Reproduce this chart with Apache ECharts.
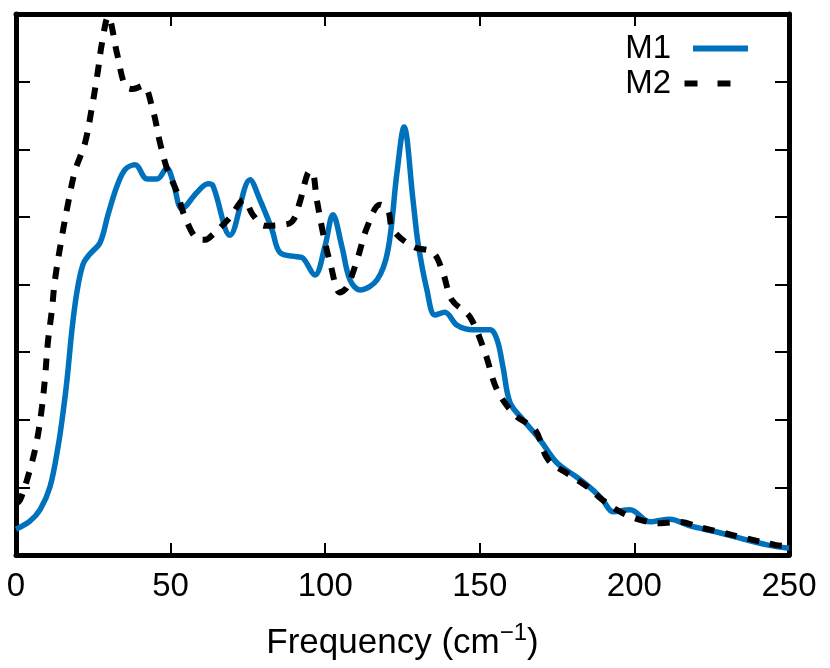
<!DOCTYPE html>
<html>
<head>
<meta charset="utf-8">
<script src="https://cdn.jsdelivr.net/npm/echarts@6/dist/echarts.min.js"></script>
<style>html,body{margin:0;padding:0;background:#fff}#c{width:830px;height:668px}</style>
</head>
<body>
<div id="c"></div>
<script>
// M1 (solid blue): frequency (cm^-1), value
const m1X = [0, 4.5, 7.8, 11.0, 13.6, 15.2, 16.5, 18.1, 19.7, 21.7, 23.9, 27.2, 29.8, 32.7, 35.3, 38.5, 42.4, 45.6, 48.8, 50.8, 53.7, 58.5, 62.1, 63.7, 69.2, 75.7, 78.9, 82.8, 85.4, 90.9, 92.8, 96.7, 99.9, 102.5, 105.4, 108.0, 111.3, 116.8, 120.3, 123.2, 125.5, 128.4, 130.0, 132.9, 135.5, 138.7, 142.6, 147.8, 153.3, 155.6, 157.5, 159.8, 164.0, 169.5, 175.0, 181.4, 186.6, 189.8, 193.1, 198.6, 205.0, 211.5, 218.0, 226.7, 234.2, 242.9, 250];
const m1Y = [0.38, 0.50, 0.67, 1.01, 1.60, 2.10, 2.59, 3.33, 3.89, 4.30, 4.45, 4.62, 5.04, 5.46, 5.70, 5.77, 5.56, 5.56, 5.72, 5.52, 5.12, 5.36, 5.49, 5.46, 4.73, 5.55, 5.25, 4.81, 4.47, 4.41, 4.39, 4.14, 4.56, 5.03, 4.56, 4.07, 3.92, 4.07, 4.51, 5.65, 6.33, 5.25, 4.62, 3.92, 3.55, 3.59, 3.40, 3.33, 3.33, 3.18, 2.78, 2.25, 2.00, 1.70, 1.36, 1.15, 0.96, 0.81, 0.64, 0.67, 0.49, 0.53, 0.43, 0.34, 0.25, 0.15, 0.10];
// M2 (dashed black)
const m2X = [0, 1.3, 4.5, 6.8, 8.4, 9.4, 10.3, 11.6, 12.6, 14.9, 16.8, 19.1, 22.3, 24.6, 26.5, 27.8, 29.8, 32.7, 35.3, 37.8, 41.1, 44.3, 46.6, 48.8, 52.1, 54.7, 58.9, 61.1, 62.7, 69.2, 73.7, 76.6, 80.5, 85.4, 89.3, 91.8, 94.4, 95.7, 97.3, 99.3, 101.6, 104.8, 107.0, 110.3, 113.5, 117.7, 120.3, 121.9, 128.4, 134.9, 138.1, 141.0, 146.8, 151.7, 155.6, 161.4, 167.9, 172.1, 179.2, 184.7, 189.8, 195.3, 201.8, 208.3, 214.7, 221.2, 227.7, 235.8, 245.5, 250];
const m2Y = [0.76, 0.81, 1.26, 1.70, 2.19, 2.63, 3.14, 3.62, 4.07, 4.72, 5.19, 5.68, 6.09, 6.63, 7.16, 7.57, 7.96, 7.41, 6.94, 6.89, 6.94, 6.57, 6.09, 5.72, 5.36, 4.99, 4.67, 4.66, 4.70, 4.99, 5.25, 5.03, 4.87, 4.88, 4.93, 5.22, 5.65, 5.67, 5.25, 4.76, 4.32, 3.88, 3.96, 4.36, 4.84, 5.18, 5.10, 4.81, 4.56, 4.47, 4.17, 3.77, 3.52, 2.99, 2.44, 2.07, 1.85, 1.41, 1.18, 1.01, 0.81, 0.64, 0.52, 0.47, 0.49, 0.41, 0.34, 0.25, 0.15, 0.13];
const xTicks = [0, 50, 100, 150, 200, 250];
const seriesNames = ['M1', 'M2'];

const FONT = 'Liberation Sans, Arial, sans-serif';
const zip = (a, b) => a.map((v, i) => [v, b[i]]);

const chart = echarts.init(document.getElementById('c'), null, {renderer: 'canvas'});
const axisLine = {show: true, onZero: false, lineStyle: {color: '#000', width: 5}};
const tick = (len) => ({show: true, inside: true, length: len, lineStyle: {color: '#000', width: 2}});
chart.setOption({
  animation: false,
  backgroundColor: '#fff',
  grid: {left: 16, right: 41, top: 14, bottom: 113, containLabel: false, outerBoundsMode: 'none'},
  legend: {
    orient: 'vertical', right: 77, top: 27, align: 'right',
    itemWidth: 72, itemHeight: 6, itemGap: 2,
    itemStyle: {borderWidth: 0},
    textStyle: {fontFamily: FONT, fontSize: 33, color: '#000', padding: [0, 0, 0, 0]},
    data: [
      {name: seriesNames[0], icon: 'path://M0,0M17,0H72V6H17Z'},
      {name: seriesNames[1], icon: 'path://M72,6M17,0H30V6H17ZM50,0H63V6H50Z'}
    ]
  },
  xAxis: [{
    type: 'value', min: xTicks[0], max: xTicks[xTicks.length - 1], interval: 50,
    axisLine: axisLine, axisTick: tick(12), splitLine: {show: false},
    axisLabel: {fontFamily: FONT, fontSize: 33, color: '#000', margin: 15,
      formatter: v => xTicks.includes(v) ? String(v) : ''},
    name: '{a|Frequency (cm}{s|−1}{a|)}', nameLocation: 'middle', nameGap: 66,
    nameTextStyle: {rich: {
      a: {fontFamily: FONT, fontSize: 35, color: '#000', lineHeight: 40, verticalAlign: 'bottom'},
      s: {fontFamily: FONT, fontSize: 24, color: '#000', lineHeight: 40, verticalAlign: 'top', padding: [0, 0, 18, 0]}
    }}
  }, {
    type: 'value', position: 'top', min: 0, max: 250, interval: 50,
    axisLine: axisLine, axisTick: tick(12), axisLabel: {show: false}, splitLine: {show: false}
  }],
  yAxis: [{
    type: 'value', min: 0, max: 8, interval: 1,
    axisLine: axisLine, axisTick: tick(14), axisLabel: {show: false}, splitLine: {show: false}
  }, {
    type: 'value', position: 'right', min: 0, max: 8, interval: 1,
    axisLine: axisLine, axisTick: tick(14), axisLabel: {show: false}, splitLine: {show: false}
  }],
  series: [{
    name: seriesNames[0], type: 'line', data: zip(m1X, m1Y), showSymbol: false, symbol: 'none',
    smooth: 0.35, lineStyle: {color: '#0072BD', width: 5.5}, itemStyle: {color: '#0072BD'}, z: 3
  }, {
    name: seriesNames[1], type: 'line', data: zip(m2X, m2Y), showSymbol: false, symbol: 'none',
    smooth: 0.35, lineStyle: {color: '#000', width: 6, type: [12, 11]}, itemStyle: {color: '#000'}, z: 4
  }]
});
</script>
</body>
</html>
